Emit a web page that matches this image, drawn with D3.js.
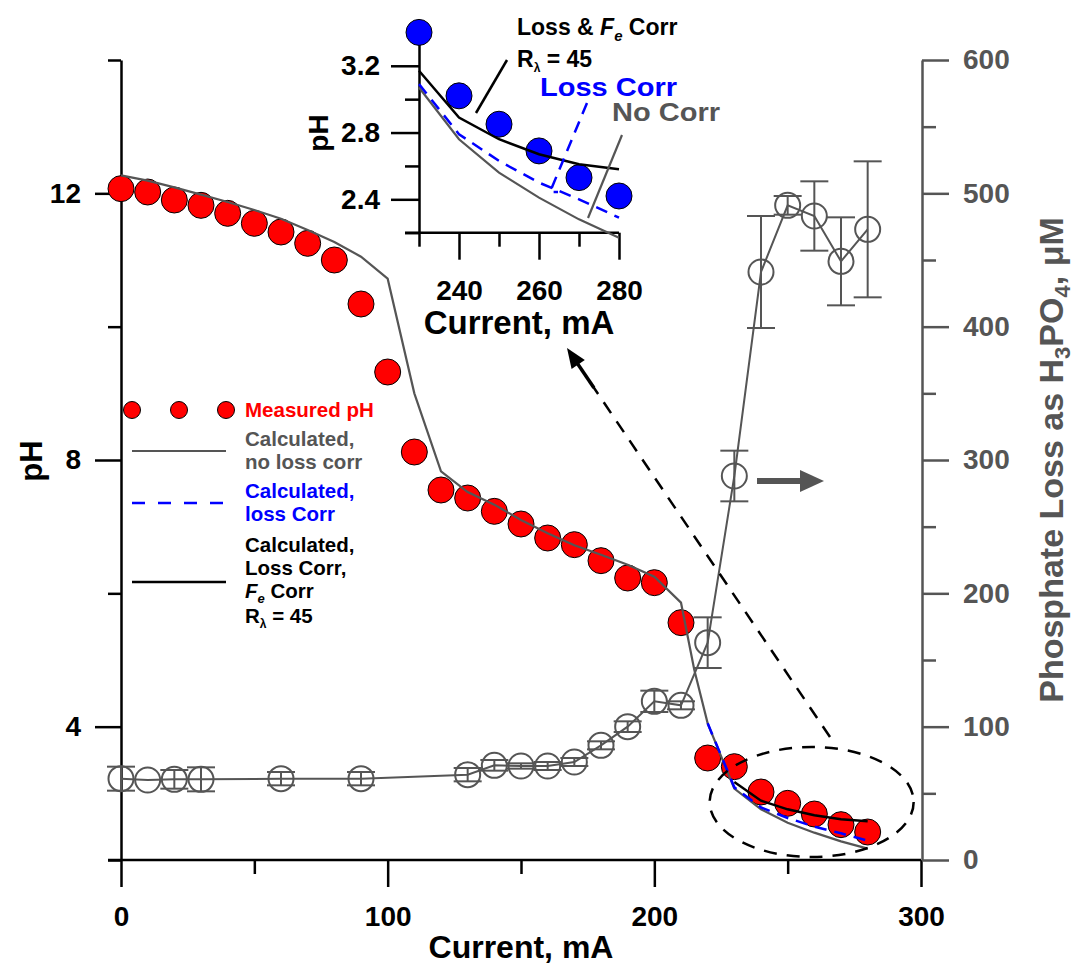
<!DOCTYPE html>
<html><head><meta charset="utf-8">
<script src="https://cdn.jsdelivr.net/npm/d3@7"></script>
<style>
html,body{margin:0;padding:0;background:#fff;}
svg{display:block;font-family:"Liberation Sans",Arial,Helvetica,sans-serif;font-weight:bold;}
</style></head>
<body>
<svg id="chart" width="1075" height="968"></svg>
<script>
// ---------------- DATA ----------------
const currents = [0,10,20,30,40,50,60,70,80,90,100,110,120,130,140,150,160,170,180,190,200,210,220,230,240,250,260,270,280];
const measuredPH = [12.07,12.02,11.9,11.82,11.7,11.55,11.42,11.25,11.0,10.34,9.32,8.12,7.55,7.43,7.23,7.04,6.83,6.73,6.49,6.23,6.16,5.56,3.53,3.40,3.02,2.85,2.69,2.53,2.42];

const calcCurrents = [0,10,20,30,40,50,60,70,80,90,100,110,120,130,140,150,160,170,180,190,200,210,215,220,230,240,250,260,270,280];
const calcNoCorr = [12.27,12.19,12.09,11.98,11.87,11.75,11.62,11.45,11.27,11.05,10.72,9.0,7.83,7.52,7.33,7.1,6.9,6.72,6.58,6.43,6.25,5.86,4.85,4.05,3.07,2.76,2.56,2.41,2.28,2.17];

const lossCorrCurrents = [220,230,240,250,260,270,280];
const calcLossCorr = [4.05,3.09,2.79,2.63,2.50,2.40,2.29];

const feCorrCurrents = [230,240,250,260,270,280];
const calcFeCorr = [3.17,2.89,2.76,2.67,2.61,2.58];

const phosCurrents = [0,10,20,30,60,90,130,140,150,160,170,180,190,200,210,220,230,240,250,260,270,280];
const phosLoss = [61,60,60.5,60.5,61,61,64,71,70.5,70.5,73.5,86,100,119,116,163,288,441,491,483,449,473];
const phosErr  = [9,0,7,9,5,5,5,4,2,3,3,3,4,8,3,19,19,42,7,26,33,51];

const insetCurrents = [230,240,250,260,270,280];

const xTicksMajor = [0,100,200,300];
const xTicksMinor = [50,150,250];
const yTicksMajor = [4,8,12];
const yTicksMinor = [2,6,10,14];
const rTicksMajor = [0,100,200,300,400,500,600];
const rTicksMinor = [50,150,250,350,450,550];
const iyTicksMajor = [2.4,2.8,3.2];
const iyTicksMinor = [2.2,2.6,3.0];
const ixTicksLong = [240,260,280];
const ixTicksShort = [230,250,270];

// ---------------- SETUP ----------------
const svg = d3.select("#chart");
const GRAY = "#555555";
const x = d3.scaleLinear().domain([0,300]).range([121,921]);
const yL = d3.scaleLinear().domain([2,14]).range([860,60]);
const yR = d3.scaleLinear().domain([0,600]).range([860,60]);

function styleAxis(g, color, width){
  g.select(".domain").attr("stroke", color).attr("stroke-width", width);
  g.selectAll(".tick line").attr("stroke", color).attr("stroke-width", width);
  g.selectAll(".tick text").attr("fill", color).attr("font-size", 28).attr("font-weight","bold")
    .attr("font-family",'"Liberation Sans",Arial,sans-serif');
}

// ---------------- MAIN AXES ----------------
const gL = svg.append("g").attr("transform","translate(121,0)");
gL.call(d3.axisLeft(yL).tickValues(yTicksMinor).tickSize(13).tickSizeOuter(0).tickFormat(""));
styleAxis(gL,"#000",2.5);
const gL2 = svg.append("g").attr("transform","translate(121,0)");
gL2.call(d3.axisLeft(yL).tickValues(yTicksMajor).tickSize(26).tickSizeOuter(0).tickPadding(14).tickFormat(d3.format("d")));
styleAxis(gL2,"#000",2.5);
gL2.select(".domain").remove();

const gB = svg.append("g").attr("transform","translate(0,860)");
gB.call(d3.axisBottom(x).tickValues(xTicksMinor).tickSize(14).tickSizeOuter(0).tickFormat(""));
styleAxis(gB,"#000",2.5);
gB.select(".domain").attr("d","M108,0H921");
const gB2 = svg.append("g").attr("transform","translate(0,860)");
gB2.call(d3.axisBottom(x).tickValues(xTicksMajor).tickSize(27).tickSizeOuter(0).tickPadding(19).tickFormat(d3.format("d")));
styleAxis(gB2,"#000",2.5);
gB2.select(".domain").remove();

const gR = svg.append("g").attr("transform","translate(922,0)");
gR.call(d3.axisRight(yR).tickValues(rTicksMinor).tickSize(14).tickSizeOuter(0).tickFormat(""));
styleAxis(gR,GRAY,2.5);
const gR2 = svg.append("g").attr("transform","translate(922,0)");
gR2.call(d3.axisRight(yR).tickValues(rTicksMajor).tickSize(27).tickSizeOuter(0).tickPadding(14).tickFormat(d3.format("d")));
styleAxis(gR2,GRAY,2.5);
gR2.select(".domain").remove();

// axis titles
svg.append("text").attr("x",521).attr("y",958).attr("text-anchor","middle")
  .attr("font-size",32).attr("fill","#000").text("Current, mA");
svg.append("text").attr("transform","translate(42,461) rotate(-90)").attr("text-anchor","middle")
  .attr("font-size",31).attr("fill","#000").text("pH");
const rt = svg.append("text").attr("transform","translate(1063,460) rotate(-90)").attr("text-anchor","middle")
  .attr("font-size",34).attr("fill",GRAY);
rt.append("tspan").text("Phosphate Loss as H");
rt.append("tspan").attr("font-size",22).attr("dy",7).text("3");
rt.append("tspan").attr("dy",-7).text("PO");
rt.append("tspan").attr("font-size",22).attr("dy",7).text("4");
rt.append("tspan").attr("dy",-7).text(", \u03BCM");

// ---------------- PHOSPHATE SERIES ----------------
const phos = phosCurrents.map((c,i)=>({c, v:phosLoss[i], e:phosErr[i]}));
const gp = svg.append("g").attr("stroke",GRAY).attr("fill","none").attr("stroke-width",2);
gp.append("path").datum(phos)
  .attr("d", d3.line().x(d=>x(d.c)).y(d=>yR(d.v)));
phos.filter(d=>d.e>0).forEach(d=>{
  const cx = x(d.c);
  gp.append("line").attr("x1",cx).attr("x2",cx).attr("y1",yR(d.v-d.e)).attr("y2",yR(d.v+d.e));
  [d.v-d.e, d.v+d.e].forEach(v=>{
    gp.append("line").attr("x1",cx-14).attr("x2",cx+14).attr("y1",yR(v)).attr("y2",yR(v));
  });
});
gp.selectAll("circle").data(phos).join("circle")
  .attr("cx",d=>x(d.c)).attr("cy",d=>yR(d.v)).attr("r",12.5);

// ---------------- pH SERIES ----------------
svg.append("g").selectAll("circle").data(currents).join("circle")
  .attr("cx",d=>x(d)).attr("cy",(d,i)=>yL(measuredPH[i])).attr("r",13)
  .attr("fill","#ff0000").attr("stroke","#000").attr("stroke-width",1);

svg.append("path").datum(calcCurrents)
  .attr("d", d3.line().x(d=>x(d)).y((d,i)=>yL(calcNoCorr[i])))
  .attr("fill","none").attr("stroke",GRAY).attr("stroke-width",2.2);
svg.append("path").datum(lossCorrCurrents)
  .attr("d", d3.line().x(d=>x(d)).y((d,i)=>yL(calcLossCorr[i])))
  .attr("fill","none").attr("stroke","#0000ff").attr("stroke-width",2.5).attr("stroke-dasharray","12,8");
svg.append("path").datum(feCorrCurrents)
  .attr("d", d3.line().x(d=>x(d)).y((d,i)=>yL(calcFeCorr[i])))
  .attr("fill","none").attr("stroke","#000").attr("stroke-width",2.5);

// ---------------- ANNOTATIONS (main) ----------------
svg.append("ellipse").attr("cx",x(259)).attr("cy",yL(2.87)).attr("rx",102).attr("ry",55)
  .attr("fill","none").attr("stroke","#000").attr("stroke-width",2.5).attr("stroke-dasharray","13,10");
const ax1 = 830, ay1 = 737, ax2 = 567, ay2 = 348;
const ang = Math.atan2(ay2-ay1, ax2-ax1);
const ux = Math.cos(ang), uy = Math.sin(ang);
svg.append("line").attr("x1",ax1).attr("y1",ay1).attr("x2",ax2-ux*45).attr("y2",ay2-uy*45)
  .attr("stroke","#000").attr("stroke-width",2.5).attr("stroke-dasharray","13,10");
svg.append("line").attr("x1",ax2-ux*48).attr("y1",ay2-uy*48).attr("x2",ax2-ux*12).attr("y2",ay2-uy*12)
  .attr("stroke","#000").attr("stroke-width",3.5);
{
  const L=20, W=8, bx=ax2-ux*L, by=ay2-uy*L;
  svg.append("path").attr("d",`M${ax2},${ay2}L${bx-uy*W},${by+ux*W}L${bx+uy*W},${by-ux*W}Z`).attr("fill","#000");
}
svg.append("line").attr("x1",757).attr("x2",802).attr("y1",481).attr("y2",481)
  .attr("stroke",GRAY).attr("stroke-width",6);
svg.append("path").attr("d","M800,470L824,481L800,492Z").attr("fill",GRAY);

// ---------------- LEGEND ----------------
const lg = svg.append("g");
[132,179,226].forEach(cx=>lg.append("circle").attr("cx",cx).attr("cy",410).attr("r",8.5)
  .attr("fill","#ff0000").attr("stroke","#000").attr("stroke-width",1));
lg.append("line").attr("x1",132).attr("x2",226).attr("y1",451).attr("y2",451).attr("stroke",GRAY).attr("stroke-width",2.2);
lg.append("line").attr("x1",132).attr("x2",226).attr("y1",503).attr("y2",503).attr("stroke","#0000ff").attr("stroke-width",2.5).attr("stroke-dasharray","13,13");
lg.append("line").attr("x1",132).attr("x2",226).attr("y1",582).attr("y2",582).attr("stroke","#000").attr("stroke-width",2.5);
function ltext(y, color, txt){ return lg.append("text").attr("x",245).attr("y",y).attr("font-size",20.5).attr("fill",color).text(txt); }
ltext(417,"#ff0000","Measured pH");
ltext(446,GRAY,"Calculated,");
ltext(469,GRAY,"no loss corr");
ltext(498,"#0000ff","Calculated,");
ltext(521,"#0000ff","loss Corr");
ltext(552,"#000","Calculated,");
ltext(575,"#000","Loss Corr,");
{
  const t = lg.append("text").attr("x",245).attr("y",598).attr("font-size",20.5).attr("fill","#000");
  t.append("tspan").attr("font-style","italic").text("F");
  t.append("tspan").attr("font-style","italic").attr("font-size",13).attr("dy",5).text("e");
  t.append("tspan").attr("dy",-5).text(" Corr");
  const r = lg.append("text").attr("x",245).attr("y",623).attr("font-size",20.5).attr("fill","#000");
  r.append("tspan").text("R");
  r.append("tspan").attr("font-size",12).attr("dy",5).text("\u03BB");
  r.append("tspan").attr("dy",-5).text(" = 45");
}

// ---------------- INSET ----------------
const xi = d3.scaleLinear().domain([230,280]).range([419,619]);
const yi = d3.scaleLinear().domain([2.2,3.4]).range([232.7,32.4]);
const insetMeasured = insetCurrents.map(c=>measuredPH[currents.indexOf(c)]);
const insetNoCorr = insetCurrents.map(c=>calcNoCorr[calcCurrents.indexOf(c)]);
const insetLossCorr = insetCurrents.map(c=>calcLossCorr[lossCorrCurrents.indexOf(c)]);
const insetFeCorr = insetCurrents.map(c=>calcFeCorr[feCorrCurrents.indexOf(c)]);

const gi = svg.append("g");
const giL = gi.append("g").attr("transform","translate(419,0)");
giL.call(d3.axisLeft(yi).tickValues(iyTicksMinor).tickSize(14).tickSizeOuter(0).tickFormat(""));
styleAxis(giL,"#000",2.5);
const giL2 = gi.append("g").attr("transform","translate(419,0)");
giL2.call(d3.axisLeft(yi).tickValues(iyTicksMajor).tickSize(28).tickSizeOuter(0).tickPadding(11).tickFormat(d3.format(".1f")));
styleAxis(giL2,"#000",2.5);
giL2.select(".domain").remove();
const giB = gi.append("g").attr("transform","translate(0,232.7)");
giB.call(d3.axisBottom(xi).tickValues(ixTicksShort).tickSize(14).tickSizeOuter(0).tickFormat(""));
styleAxis(giB,"#000",2.5);
giB.select(".domain").attr("d","M405,0H619");
const giB2 = gi.append("g").attr("transform","translate(0,232.7)");
giB2.call(d3.axisBottom(xi).tickValues(ixTicksLong).tickSize(27).tickSizeOuter(0).tickPadding(20).tickFormat(d3.format("d")));
styleAxis(giB2,"#000",2.5);
giB2.select(".domain").remove();

gi.append("text").attr("x",519).attr("y",334).attr("text-anchor","middle").attr("font-size",33).attr("fill","#000").text("Current, mA");
gi.append("text").attr("transform","translate(328,133) rotate(-90)").attr("text-anchor","middle").attr("font-size",28).attr("fill","#000").text("pH");

gi.append("g").selectAll("circle").data(insetCurrents).join("circle")
  .attr("cx",d=>xi(d)).attr("cy",(d,i)=>yi(insetMeasured[i])).attr("r",13)
  .attr("fill","#0000ff").attr("stroke","#000").attr("stroke-width",1);
gi.append("path").datum(insetCurrents).attr("d",d3.line().x(d=>xi(d)).y((d,i)=>yi(insetNoCorr[i])))
  .attr("fill","none").attr("stroke",GRAY).attr("stroke-width",2.2);
gi.append("path").datum(insetCurrents).attr("d",d3.line().x(d=>xi(d)).y((d,i)=>yi(insetLossCorr[i])))
  .attr("fill","none").attr("stroke","#0000ff").attr("stroke-width",2.5).attr("stroke-dasharray","12,8");
gi.append("path").datum(insetCurrents).attr("d",d3.line().x(d=>xi(d)).y((d,i)=>yi(insetFeCorr[i])))
  .attr("fill","none").attr("stroke","#000").attr("stroke-width",2.5);

// inset labels
{
  const t = gi.append("text").attr("x",517).attr("y",35).attr("font-size",23).attr("fill","#000");
  t.append("tspan").text("Loss & ");
  t.append("tspan").attr("font-style","italic").text("F");
  t.append("tspan").attr("font-style","italic").attr("font-size",15).attr("dy",6).text("e");
  t.append("tspan").attr("dy",-6).text(" Corr");
  const r = gi.append("text").attr("x",517).attr("y",67).attr("font-size",23).attr("fill","#000");
  r.append("tspan").text("R");
  r.append("tspan").attr("font-size",12).attr("dy",5).text("\u03BB");
  r.append("tspan").attr("dy",-5).text(" = 45");
}
gi.append("line").attr("x1",507).attr("y1",60).attr("x2",476).attr("y2",113).attr("stroke","#000").attr("stroke-width",2.5);
gi.append("text").attr("x",540).attr("y",96).attr("font-size",25).attr("textLength",137).attr("lengthAdjust","spacingAndGlyphs")
  .attr("fill","#0000ff").text("Loss Corr");
gi.append("path").attr("d","M587,103L550,192L558,192").attr("fill","none").attr("stroke","#0000ff").attr("stroke-width",2.5).attr("stroke-dasharray","12,8");
gi.append("text").attr("x",612).attr("y",121).attr("font-size",25).attr("textLength",108).attr("lengthAdjust","spacingAndGlyphs")
  .attr("fill",GRAY).text("No Corr");
gi.append("line").attr("x1",622).attr("y1",135).attr("x2",588).attr("y2",218).attr("stroke",GRAY).attr("stroke-width",2.2);
</script>
</body></html>
